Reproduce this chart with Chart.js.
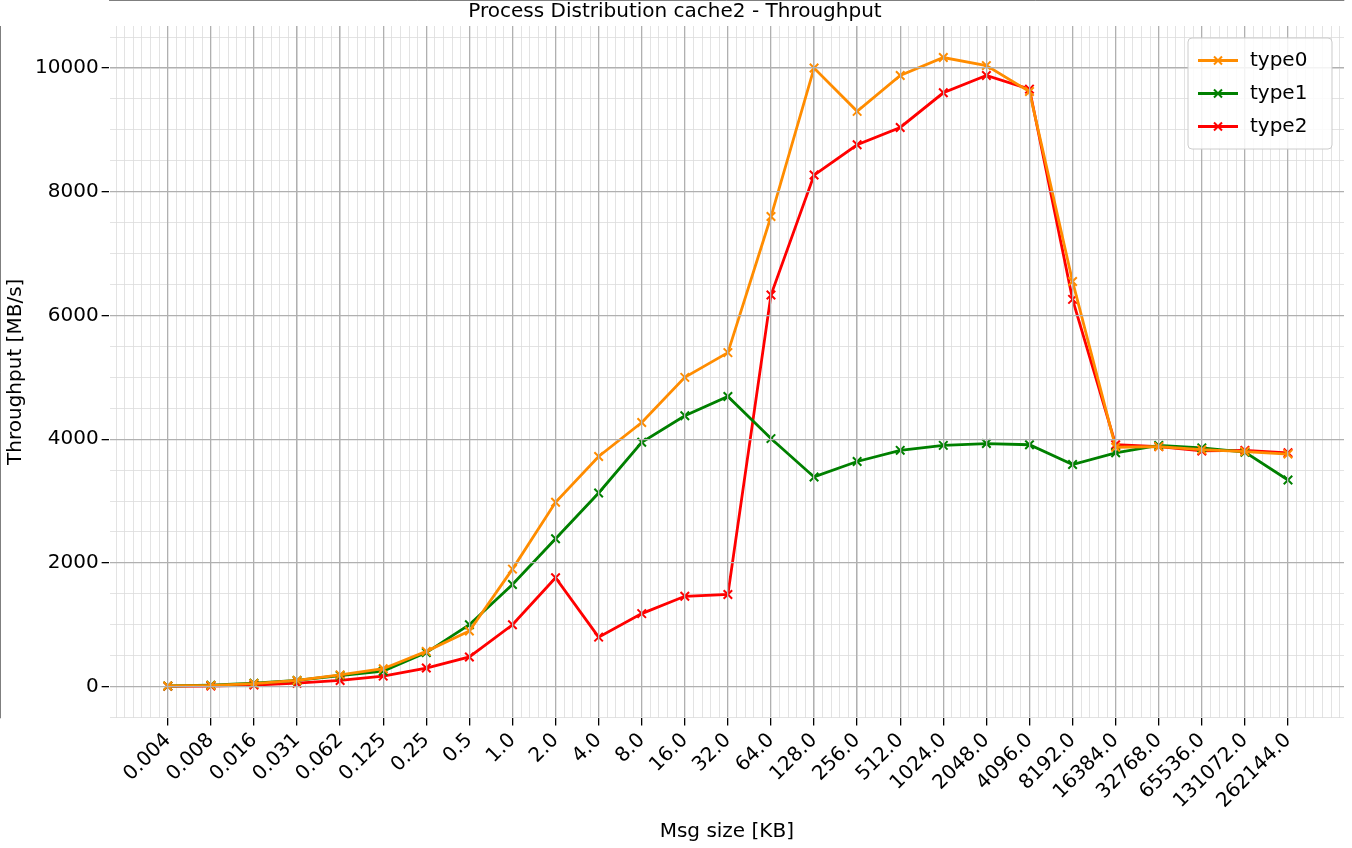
<!DOCTYPE html>
<html>
<head>
<meta charset="utf-8">
<script src="https://cdn.jsdelivr.net/npm/chart.js@4"></script>
<style>
  body { margin: 0; background: #fff; }
  #wrap { width: 1352px; height: 848px; }
</style>
</head>
<body>
<div id="wrap"><canvas id="chart"></canvas></div>
<script>
const msgSizes = ["0.004", "0.008", "0.016", "0.031", "0.062", "0.125", "0.25", "0.5", "1.0", "2.0", "4.0", "8.0", "16.0", "32.0", "64.0", "128.0", "256.0", "512.0", "1024.0", "2048.0", "4096.0", "8192.0", "16384.0", "32768.0", "65536.0", "131072.0", "262144.0"];
const type0 = [10, 20, 50, 100, 190, 290, 570, 900, 1900, 2980, 3720, 4270, 5000, 5400, 7600, 10000, 9300, 9880, 10170, 10040, 9620, 6550, 3870, 3880, 3830, 3800, 3760];
const type1 = [10, 25, 55, 100, 180, 250, 550, 1000, 1650, 2390, 3130, 3950, 4380, 4690, 4010, 3390, 3640, 3820, 3900, 3930, 3910, 3590, 3780, 3900, 3860, 3790, 3340];
const type2 = [5, 10, 25, 55, 100, 170, 300, 480, 1000, 1760, 800, 1180, 1460, 1490, 6330, 8270, 8760, 9040, 9600, 9880, 9660, 6260, 3910, 3880, 3810, 3820, 3780];

const font = { family: "DejaVu Sans", size: 20 };
const toPoints = vals => vals.map((v, i) => ({ x: i, y: v }));

function series(label, data, color) {
    return {
        label: label,
        data: toPoints(data),
        borderColor: color,
        backgroundColor: color,
        borderWidth: 2.8,
        pointStyle: "crossRot",
        pointRadius: 6,
        pointBorderWidth: 2,
        tension: 0
    };
}

// simple matplotlib-like legend box, top right of the plot
const boxLegend = {
    id: "boxLegend",
    afterDraw(chart) {
        const { ctx, chartArea } = chart;
        const sets = chart.data.datasets;
        const w = 144, rowH = 33, h = sets.length * rowH + 12;
        const x0 = chartArea.right - w - 12, y0 = chartArea.top + 12;
        ctx.save();
        ctx.fillStyle = "rgba(255,255,255,0.85)";
        ctx.strokeStyle = "#cccccc";
        ctx.lineWidth = 1;
        ctx.beginPath();
        ctx.roundRect(x0, y0, w, h, 4);
        ctx.fill();
        ctx.stroke();
        ctx.font = "20px 'DejaVu Sans'";
        ctx.textBaseline = "middle";
        sets.forEach((ds, i) => {
            const cy = y0 + 6 + rowH * i + rowH / 2;
            ctx.strokeStyle = ds.borderColor;
            ctx.lineWidth = 2.8;
            ctx.beginPath();
            ctx.moveTo(x0 + 10, cy);
            ctx.lineTo(x0 + 50, cy);
            ctx.stroke();
            ctx.lineWidth = 2;
            ctx.beginPath();
            ctx.moveTo(x0 + 26, cy - 4); ctx.lineTo(x0 + 34, cy + 4);
            ctx.moveTo(x0 + 34, cy - 4); ctx.lineTo(x0 + 26, cy + 4);
            ctx.stroke();
            ctx.fillStyle = "#000";
            ctx.fillText(ds.label, x0 + 62, cy);
        });
        ctx.restore();
    }
};

new Chart(document.getElementById("chart"), {
    type: "line",
    data: {
        datasets: [
            series("type0", type0, "#ff8c00"),
            series("type1", type1, "#008000"),
            series("type2", type2, "#ff0000")
        ]
    },
    plugins: [boxLegend],
    options: {
        responsive: true,
        maintainAspectRatio: false,
        animation: false,
        layout: { padding: { right: 2, top: 0 } },
        plugins: {
            title: { display: true, text: "Process Distribution cache2 - Throughput", font: { family: "DejaVu Sans", size: 20, weight: "normal" }, color: "#000", padding: { top: 0, bottom: 2 } },
            legend: { display: false }
        },
        scales: {
            xm: {
                type: "linear",
                position: "bottom",
                min: -1.35,
                max: 27.3,
                afterBuildTicks: axis => {
                    const t = [];
                    for (let k = -6; k <= 136; k++) t.push({ value: k * 0.2 });
                    axis.ticks = t;
                },
                ticks: { display: false },
                grid: { color: "#dcdcdc", lineWidth: 0.8, drawTicks: false },
                border: { display: false }
            },
            ym: {
                position: "left",
                min: -500,
                max: 10680,
                afterBuildTicks: axis => {
                    const t = [];
                    for (let v = -500; v <= 10500; v += 500) t.push({ value: v });
                    axis.ticks = t;
                },
                ticks: { display: false },
                grid: { color: "#dcdcdc", lineWidth: 0.8, drawTicks: false },
                border: { display: false }
            },
            x: {
                type: "linear",
                min: -1.35,
                max: 27.3,
                afterBuildTicks: axis => { axis.ticks = msgSizes.map((_, i) => ({ value: i })); },
                ticks: {
                    font: font, color: "#000", maxRotation: 45, minRotation: 45, autoSkip: false,
                    callback: v => msgSizes[v]
                },
                grid: { color: "#b0b0b0", lineWidth: 1.3, tickLength: 8, tickColor: "#000", z: 1 },
                border: { color: "#000" },
                title: { display: true, text: "Msg size [KB]", font: font, color: "#000" }
            },
            y: {
                min: -500,
                max: 10680,
                afterBuildTicks: axis => { axis.ticks = [0, 2000, 4000, 6000, 8000, 10000].map(v => ({ value: v })); },
                ticks: { font: font, color: "#000", callback: v => String(v) },
                grid: { color: "#b0b0b0", lineWidth: 1.3, tickLength: 8, tickColor: "#000", z: 1 },
                border: { color: "#000" },
                title: { display: true, text: "Throughput [MB/s]", font: font, color: "#000" }
            }
        }
    }
});
</script>
</body>
</html>
